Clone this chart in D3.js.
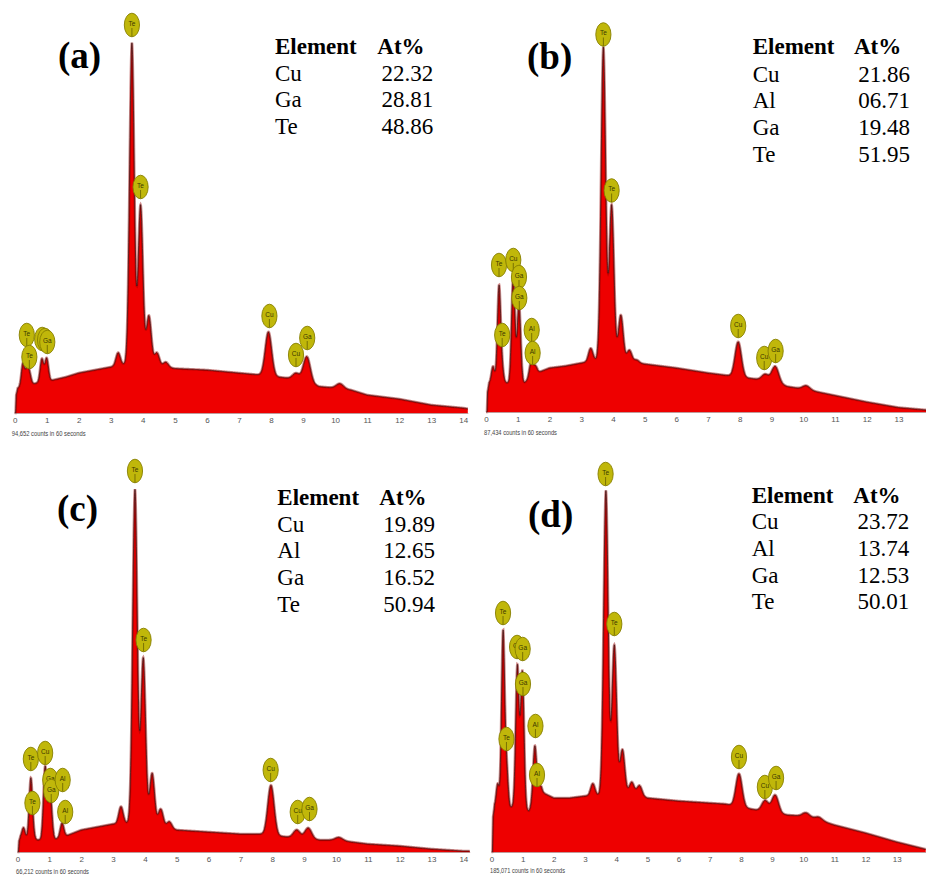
<!DOCTYPE html>
<html>
<head>
<meta charset="utf-8">
<script src="https://cdn.jsdelivr.net/npm/d3@7"></script>
<style>
  html, body { margin: 0; padding: 0; background: #fff; }
  svg { display: block; }
</style>
</head>
<body>
<svg id="chart" width="926" height="875"></svg>
<script>
// ---- EDS spectra of four Cu–(Al)–Ga–Te samples ----

const panelLabels = ["(a)", "(b)", "(c)", "(d)"];
const countNotes = [
  "94,652 counts in 60 seconds",
  "87,434 counts in 60 seconds",
  "66,212 counts in 60 seconds",
  "185,071 counts in 60 seconds"
];
const energyTicks = [0, 1, 2, 3, 4, 5, 6, 7, 8, 9, 10, 11, 12, 13, 14];

// Composition tables
const tableHeads = ["Element", "At%"];
const elementsA = ["Cu", "Ga", "Te"];
const atPctA = ["22.32", "28.81", "48.86"];
const elementsB = ["Cu", "Al", "Ga", "Te"];
const atPctB = ["21.86", "06.71", "19.48", "51.95"];
const elementsC = ["Cu", "Al", "Ga", "Te"];
const atPctC = ["19.89", "12.65", "16.52", "50.94"];
const elementsD = ["Cu", "Al", "Ga", "Te"];
const atPctD = ["23.72", "13.74", "12.53", "50.01"];

// Bremsstrahlung continuum: [energy keV, counts]
const continuumA = [[0,0],[0.03,0],[0.05,180],[0.1,250],[0.3,270],[0.7,300],[1.2,330],[1.6,360],[2,400],[2.5,430],[3,460],[3.5,490],[4,490],[4.5,470],[5,445],[6,430],[7,400],[7.7,380],[8.5,350],[9,330],[9.5,265],[10,250],[10.5,230],[11,180],[12,140],[13,80],[14,50],[14.2,40]];
const continuumB = [[0,0],[0.03,0],[0.05,200],[0.1,290],[0.3,300],[0.7,290],[1.2,290],[1.6,390],[2,440],[2.5,460],[3,490],[3.5,520],[4,520],[4.5,500],[5,480],[6,440],[7,390],[7.5,370],[8.5,330],[9,310],[9.5,255],[10,230],[11,165],[12,100],[13,45],[13.9,20]];
const continuumC = [[0,0],[0.03,0],[0.05,110],[0.1,150],[0.6,120],[1.2,130],[1.6,170],[2,220],[2.5,250],[3,280],[3.5,290],[4,300],[4.5,250],[5,220],[6,200],[7,180],[7.6,180],[8.5,150],[9.5,120],[10,120],[11,80],[12,60],[13,30],[14,10],[14.2,10]];
const continuumD = [[0,0],[0.03,0],[0.05,350],[0.1,450],[0.3,410],[0.6,440],[0.75,470],[1.2,410],[1.6,600],[2,540],[2.5,540],[3,560],[3.5,570],[4,580],[4.5,590],[5,540],[6,510],[7,490],[7.5,480],[8.5,420],[9.5,370],[10,360],[10.5,320],[11,270],[12,190],[13,100],[13.9,30]];

// Characteristic peaks above the continuum: [energy keV, counts]
const peaksA = [[0.26,230],[0.39,170],[0.47,90],[0.85,230],[1.0,230],[3.23,130],[3.66,3210],[3.93,1590],[4.19,490],[4.44,130],[4.72,50],[7.92,440],[8.78,60],[9.12,250],[10.15,50]];
const peaksB = [[0.22,160],[0.41,940],[0.50,150],[0.86,1070],[1.04,790],[1.42,150],[1.55,80],[3.3,130],[3.70,3130],[3.96,1550],[4.25,460],[4.52,120],[4.75,30],[7.95,350],[8.8,60],[9.12,160],[10.1,40]];
const peaksC = [[0.19,100],[0.42,600],[0.50,40],[0.87,730],[1.03,450],[1.40,140],[3.25,170],[3.69,3330],[3.95,1640],[4.23,510],[4.50,180],[4.77,70],[7.96,500],[8.77,80],[9.13,110],[10.1,30]];
const peaksD = [[0.2,250],[0.37,1760],[0.48,420],[0.83,1400],[0.99,1360],[1.39,560],[1.55,80],[3.25,120],[3.67,3040],[3.94,1490],[4.20,440],[4.50,110],[4.75,100],[7.94,330],[8.78,110],[9.10,180],[10.1,40],[10.5,30]];

// Line identification tags: [element, energy keV, counts at tag centre]
const markersA = [["Te",0.38,780],["Te",0.46,560],["Cu",0.86,740],["Ga",0.95,730],["Ga",1.02,710],["Te",3.66,3880],["Te",3.93,2260],["Cu",7.95,970],["Cu",8.78,580],["Ga",9.13,750]];
const markersB = [["Te",0.41,1470],["Te",0.51,770],["Cu",0.86,1520],["Ga",1.04,1350],["Ga",1.05,1140],["Al",1.44,820],["Al",1.47,590],["Te",3.70,3775],["Te",3.96,2215],["Cu",7.95,860],["Cu",8.77,540],["Ga",9.13,610]];
const markersC = [["Te",0.42,930],["Te",0.47,490],["Cu",0.87,990],["Ga",1.03,720],["Ga",1.06,610],["Al",1.42,720],["Al",1.50,400],["Te",3.69,3810],["Te",3.96,2120],["Cu",7.95,820],["Cu",8.80,400],["Ga",9.17,430]];
const markersD = [["Te",0.37,2390],["Te",0.48,1130],["Cu",0.82,2050],["Ga",1.00,2030],["Ga",1.01,1680],["Al",1.41,1260],["Al",1.46,770],["Te",3.66,3780],["Te",3.94,2280],["Cu",7.94,950],["Cu",8.77,650],["Ga",9.13,740]];

// ---- layout of the four panels ----
const frames = [
  { x0: 14.6, x1: 467.8, eMax: 14.14, base: 413, tag: [58, 68], note: [11.7, 436], noteW: 74,
    table: { x: 275, pctX: 377.3, valX: 433.3, headY: 54, rowY: 80.7 } },
  { x0: 486, x1: 926, eMax: 13.87, base: 412, tag: [527, 69], note: [484, 435], noteW: 73,
    table: { x: 752.7, pctX: 854, valX: 910, headY: 54, rowY: 81.7 } },
  { x0: 17.45, x1: 469.7, eMax: 14.2, base: 852, tag: [57, 521], note: [16, 874], noteW: 73,
    table: { x: 277.3, pctX: 379.3, valX: 435, headY: 505, rowY: 531.7 } },
  { x0: 491.5, x1: 925.7, eMax: 13.93, base: 852, tag: [528, 527], note: [490, 873], noteW: 75,
    table: { x: 751.7, pctX: 853.3, valX: 909.3, headY: 503, rowY: 529.3 } }
];
const rowStep = 26.67;
const plotHeight = 400;     // pixels for countMax
const countMax = 4000;

const panels = [
  { label: panelLabels[0], note: countNotes[0], elements: elementsA, pct: atPctA, continuum: continuumA, peaks: peaksA, markers: markersA, frame: frames[0] },
  { label: panelLabels[1], note: countNotes[1], elements: elementsB, pct: atPctB, continuum: continuumB, peaks: peaksB, markers: markersB, frame: frames[1] },
  { label: panelLabels[2], note: countNotes[2], elements: elementsC, pct: atPctC, continuum: continuumC, peaks: peaksC, markers: markersC, frame: frames[2] },
  { label: panelLabels[3], note: countNotes[3], elements: elementsD, pct: atPctD, continuum: continuumD, peaks: peaksD, markers: markersD, frame: frames[3] }
];

const svg = d3.select("#chart");
const serif = "'Liberation Serif', 'Times New Roman', serif";
const sans = "'Liberation Sans', Arial, sans-serif";

// Gaussian detector response; width grows slowly with energy
const sigmaAt = e => 0.048 + 0.0065 * e;

function buildSpectrum(continuum, peaks, eMax) {
  const bg = d3.scaleLinear()
    .domain(continuum.map(d => d[0]))
    .range(continuum.map(d => d[1]))
    .clamp(true);
  const step = 0.005;
  return d3.range(0, eMax + step / 2, step).map(e => {
    let c = bg(e);
    for (const [pe, amp] of peaks) {
      const s = sigmaAt(pe);
      const z = (e - pe) / s;
      if (Math.abs(z) < 6) c += amp * Math.exp(-0.5 * z * z);
    }
    return [e, c];
  });
}

panels.forEach(p => {
  const f = p.frame;
  const g = svg.append("g");

  const x = d3.scaleLinear().domain([0, f.eMax]).range([f.x0, f.x1]);
  const y = d3.scaleLinear().domain([0, countMax]).range([f.base, f.base - plotHeight]);

  const data = buildSpectrum(p.continuum, p.peaks, f.eMax);

  const area = d3.area().x(d => x(d[0])).y0(y(0)).y1(d => y(d[1]));
  const line = d3.line().x(d => x(d[0])).y(d => y(d[1]));

  g.append("path").datum(data).attr("d", area).attr("fill", "#ee0000");
  // darker band along the top of the measured counts
  g.append("path").datum(data).attr("d", line)
    .attr("fill", "none").attr("stroke", "#9a0000").attr("stroke-width", 2.6).attr("stroke-opacity", 0.45);
  // fitted profile
  g.append("path").datum(data).attr("d", line)
    .attr("fill", "none").attr("stroke", "#1a0a0a").attr("stroke-width", 0.7).attr("stroke-opacity", 0.85);

  // energy axis
  const axis = d3.axisBottom(x).tickValues(energyTicks.filter(t => t <= f.eMax + 0.05))
    .tickSize(0).tickPadding(4).tickFormat(d3.format("d"));
  const ax = g.append("g").attr("transform", `translate(0,${f.base})`).call(axis);
  ax.select(".domain").attr("stroke", "#b08080").attr("stroke-width", 0.8);
  ax.selectAll("text").attr("font-family", sans).attr("font-size", 8).attr("fill", "#555");

  g.append("text")
    .attr("x", f.note[0]).attr("y", f.note[1])
    .attr("font-family", sans).attr("font-size", 7.5).attr("fill", "#444")
    .attr("textLength", f.noteW).attr("lengthAdjust", "spacingAndGlyphs")
    .text(p.note);

  // line identification tags
  const tags = g.selectAll("g.tag").data(p.markers).join("g")
    .attr("class", "tag")
    .attr("transform", d => `translate(${x(d[1])},${y(d[2])})`);
  tags.append("ellipse").attr("rx", 7.6).attr("ry", 11.8)
    .attr("fill", "#c0b70a").attr("stroke", "#877f00").attr("stroke-width", 0.9);
  tags.append("text").attr("y", 0.5).attr("text-anchor", "middle")
    .attr("font-family", sans).attr("font-size", 6.5).attr("fill", "#3b3800")
    .text(d => d[0]);
  tags.append("line").attr("x1", 0).attr("x2", 0).attr("y1", 3).attr("y2", 11.5)
    .attr("stroke", "#5a5500").attr("stroke-width", 0.7);

  // panel tag
  g.append("text").attr("x", f.tag[0]).attr("y", f.tag[1])
    .attr("font-family", serif).attr("font-weight", "bold").attr("font-size", 37)
    .attr("fill", "#000").text(p.label);

  // composition table
  const t = f.table;
  g.append("text").attr("x", t.x).attr("y", t.headY)
    .attr("font-family", serif).attr("font-weight", "bold").attr("font-size", 23).text(tableHeads[0]);
  g.append("text").attr("x", t.pctX).attr("y", t.headY)
    .attr("font-family", serif).attr("font-weight", "bold").attr("font-size", 23).text(tableHeads[1]);
  p.elements.forEach((el, i) => {
    const yy = t.rowY + i * rowStep;
    g.append("text").attr("x", t.x).attr("y", yy)
      .attr("font-family", serif).attr("font-size", 23).text(el);
    g.append("text").attr("x", t.valX).attr("y", yy).attr("text-anchor", "end")
      .attr("font-family", serif).attr("font-size", 23).text(p.pct[i]);
  });
});
</script>
</body>
</html>
